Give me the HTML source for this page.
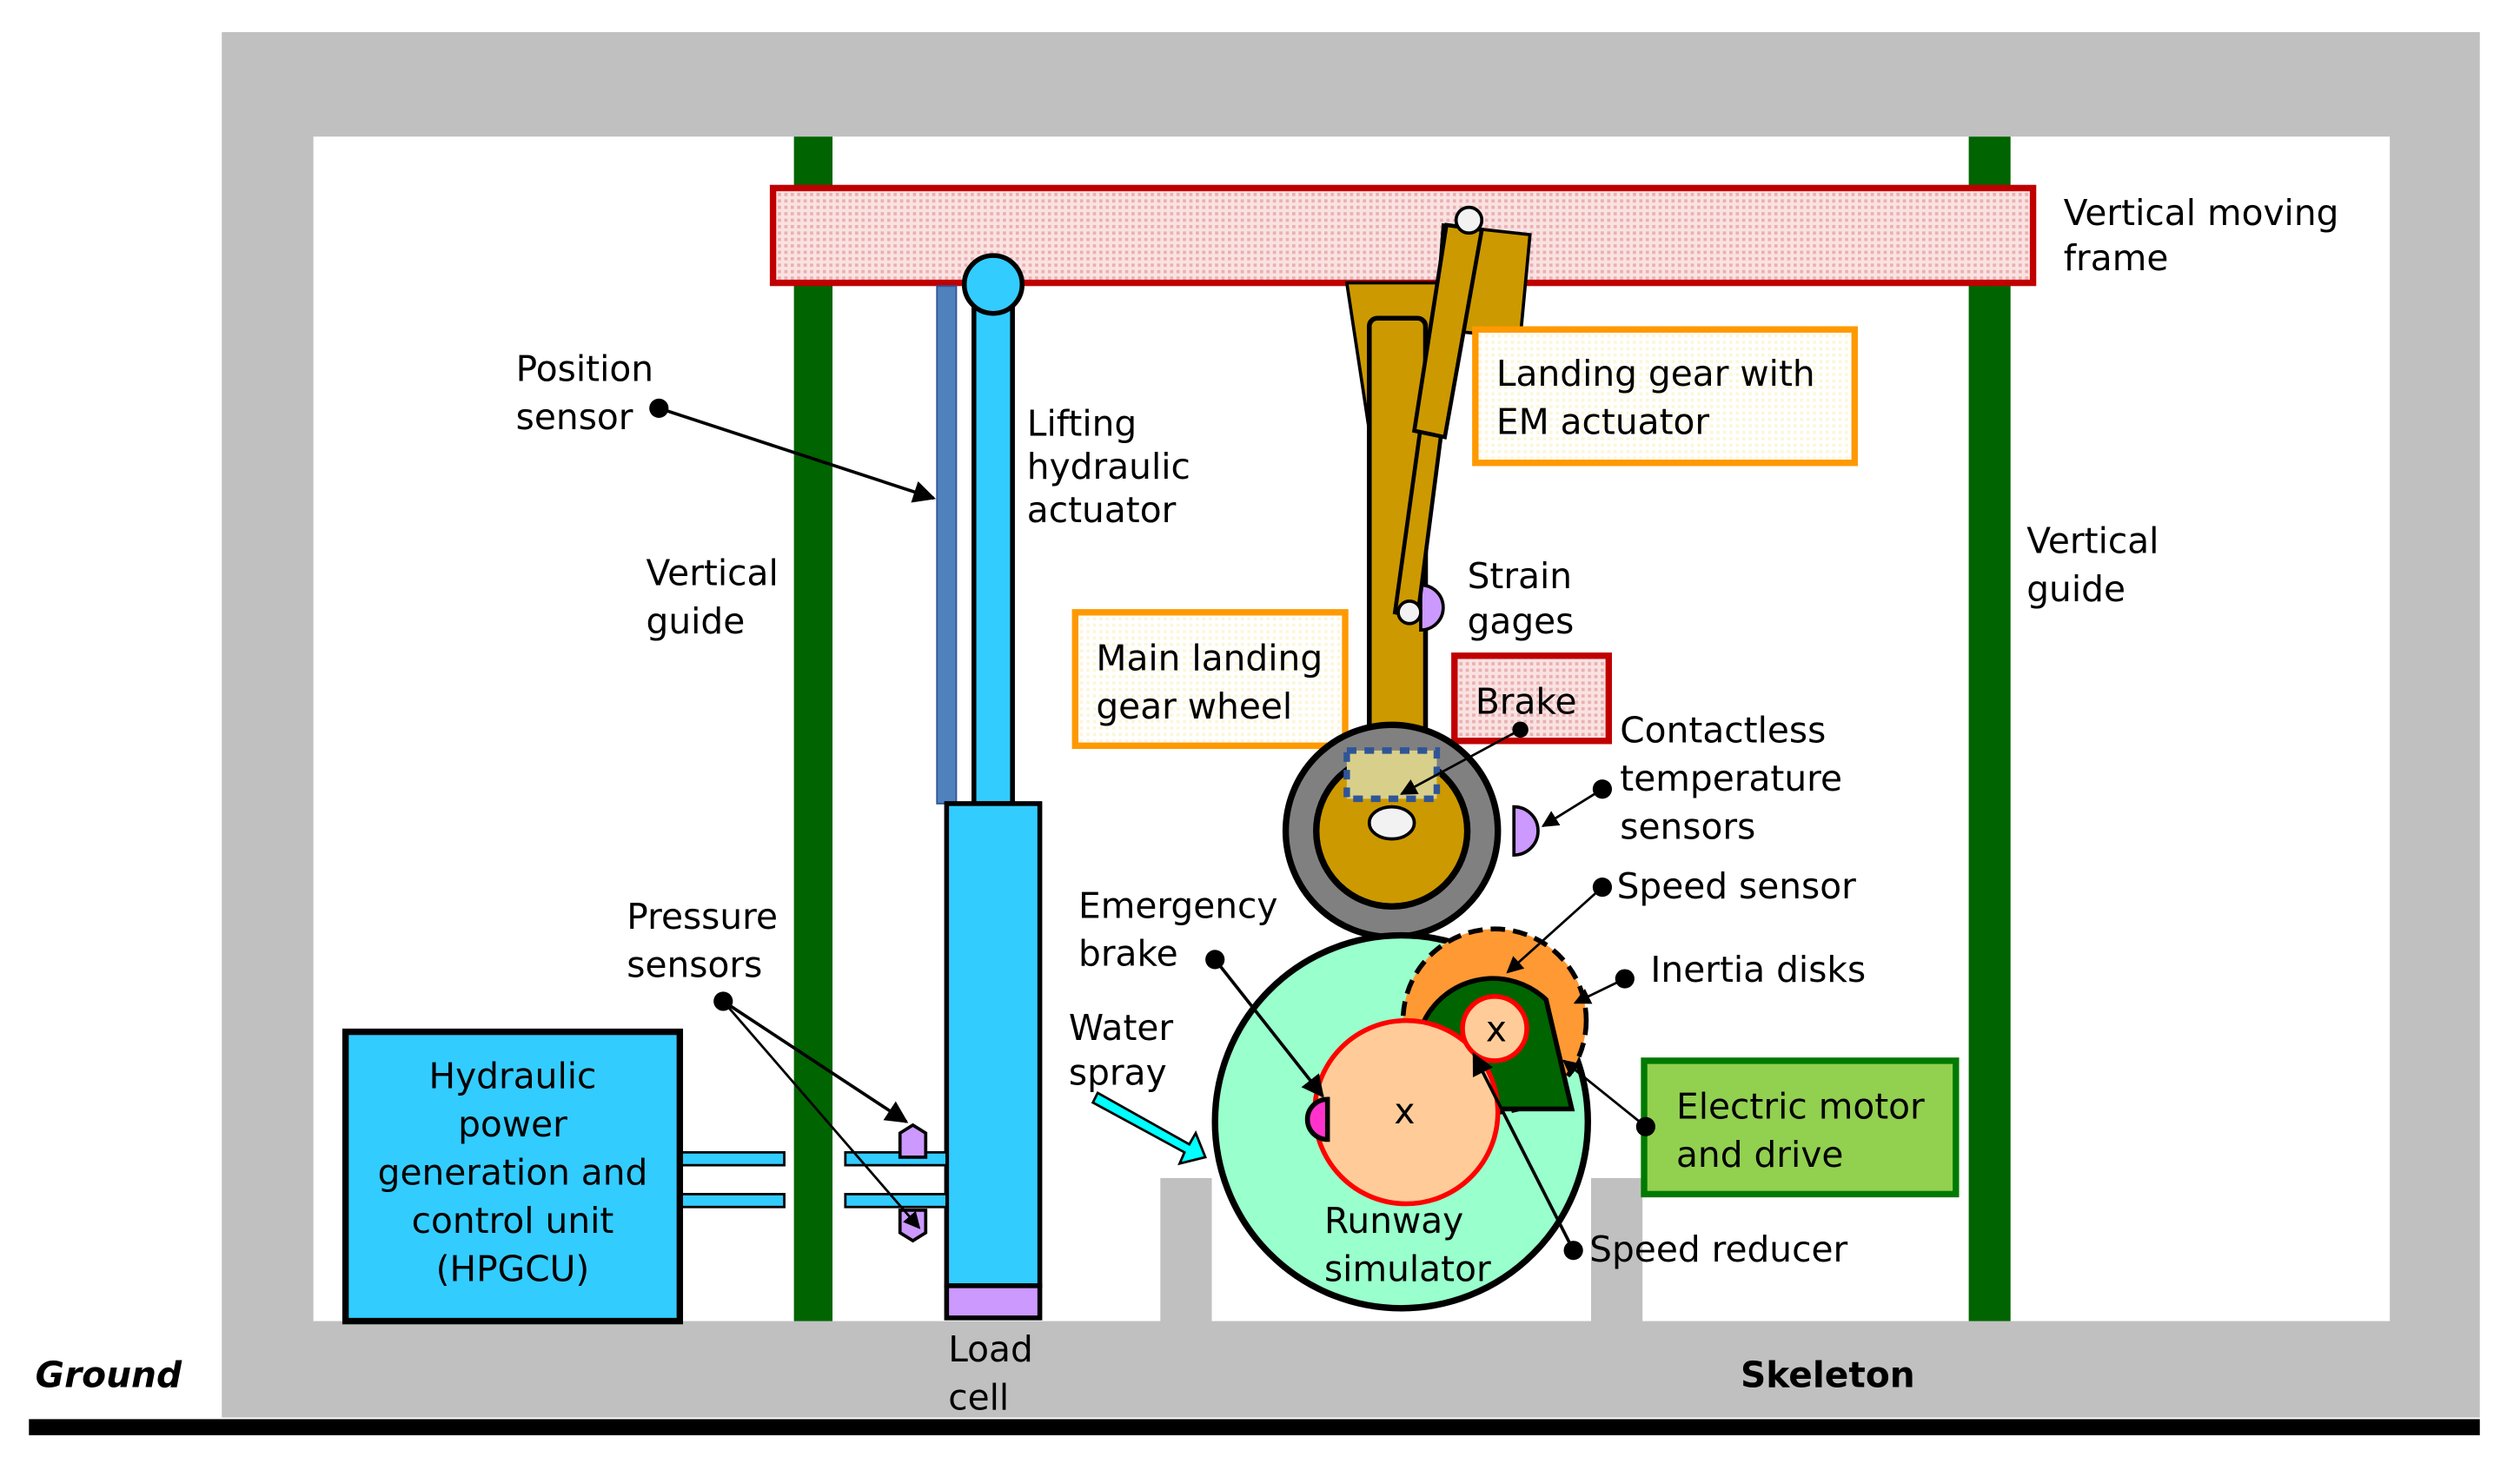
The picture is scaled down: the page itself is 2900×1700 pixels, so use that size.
<!DOCTYPE html>
<html><head><meta charset="utf-8"><style>
html,body{margin:0;padding:0;background:#fff}
svg{display:block}
text{font-family:"DejaVu Sans","Liberation Sans",sans-serif;font-size:22px;fill:#000}
</style></head><body>
<svg width="2900" height="1700" viewBox="0 0 1568 919" preserveAspectRatio="none" xmlns="http://www.w3.org/2000/svg">
<defs>
<pattern id="dots" width="4" height="4" patternUnits="userSpaceOnUse"><rect width="4" height="4" fill="#fbe2e2"/><rect width="2" height="2" fill="#e9b0b0"/></pattern>
<pattern id="ydots" width="4" height="4" patternUnits="userSpaceOnUse"><rect width="4" height="4" fill="#fff"/><rect width="2" height="2" fill="#fdf6d8"/></pattern>
<marker id="ar" viewBox="0 0 10 10" refX="9" refY="5" markerWidth="7" markerHeight="7" orient="auto"><path d="M0,0L10,5L0,10z" fill="#000"/></marker>
</defs>
<rect x="138" y="20" width="1405" height="862" fill="#c0c0c0"/>
<rect x="195" y="85" width="1292" height="737" fill="#fff"/>
<rect x="722" y="733" width="32" height="90" fill="#c0c0c0"/>
<rect x="990" y="733" width="32" height="90" fill="#c0c0c0"/>
<rect x="18" y="883" width="1525" height="10" fill="#000"/>
<text x="22" y="863" font-weight="bold" font-style="italic">Ground</text>
<text x="1083" y="863" font-weight="bold">Skeleton</text>
<rect x="494" y="85" width="24" height="737" fill="#006400"/>
<rect x="1225" y="85" width="26" height="737" fill="#006400"/>
<rect x="481" y="117" width="784" height="59" fill="url(#dots)" stroke="#c00000" stroke-width="4"/>
<text x="1284" y="140">Vertical moving</text><text x="1284" y="168">frame</text>
<rect x="583" y="178" width="12" height="322" fill="#4f81bd" stroke="#2f5597" stroke-width="1"/>
<rect x="606" y="185" width="24" height="315" fill="#33ccff" stroke="#000" stroke-width="3"/>
<circle cx="618" cy="177" r="18" fill="#33ccff" stroke="#000" stroke-width="3"/>
<rect x="589" y="500" width="58" height="300" fill="#33ccff" stroke="#000" stroke-width="3"/>
<rect x="589" y="800" width="58" height="20" fill="#cc99ff" stroke="#000" stroke-width="3"/>
<g fill="#33ccff" stroke="#000" stroke-width="1.5">
<rect x="423" y="717" width="65" height="8"/><rect x="526" y="717" width="63" height="8"/>
<rect x="423" y="743" width="65" height="8"/><rect x="526" y="743" width="63" height="8"/>
</g>
<polygon points="560,705 568,700 576,705 576,720 560,720" fill="#cc99ff" stroke="#000" stroke-width="2"/>
<polygon points="560,753 576,753 576,767 568,772 560,767" fill="#cc99ff" stroke="#000" stroke-width="2"/>
<rect x="215" y="642" width="208" height="180" fill="#33ccff" stroke="#000" stroke-width="4"/>
<g text-anchor="middle"><text x="319" y="677">Hydraulic</text><text x="319" y="707">power</text><text x="319" y="737">generation and</text><text x="319" y="767">control unit</text><text x="319" y="797">(HPGCU)</text></g>
<text x="590" y="847">Load</text><text x="590" y="877">cell</text>
<text x="321" y="237">Position</text><text x="321" y="267">sensor</text>
<circle cx="410" cy="254" r="6"/>
<line x1="410" y1="254" x2="581" y2="310" stroke="#000" stroke-width="2" marker-end="url(#ar)"/>
<text x="402" y="364">Vertical</text><text x="402" y="394">guide</text>
<text x="639" y="271">Lifting</text><text x="639" y="298">hydraulic</text><text x="639" y="325">actuator</text>
<text x="390" y="578">Pressure</text><text x="390" y="608">sensors</text>
<circle cx="450" cy="623" r="6"/>
<line x1="450" y1="623" x2="564" y2="698" stroke="#000" stroke-width="2" marker-end="url(#ar)"/>
<line x1="450" y1="623" x2="572" y2="764" stroke="#000" stroke-width="1.5" marker-end="url(#ar)"/>
<text x="1261" y="344">Vertical</text><text x="1261" y="374">guide</text>
<polygon points="838,176 895,176 895,210 852,268" fill="#cc9900" stroke="#000" stroke-width="2"/>
<rect x="852" y="198" width="35" height="290" rx="5" fill="#cc9900" stroke="#000" stroke-width="3"/>
<polygon points="898,140 952,146 946,210 893,205" fill="#cc9900" stroke="#000" stroke-width="2"/>
<path d="M884,364 A14,14 0 0 1 884,392 Z" fill="#cc99ff" stroke="#000" stroke-width="2"/>
<polygon points="900,150 912,152 882,384 868,381" fill="#cc9900" stroke="#000" stroke-width="2.5"/>
<polygon points="900,140 922,143 899,272 880,268" fill="#cc9900" stroke="#000" stroke-width="2.5"/>
<circle cx="914" cy="137" r="8" fill="#f2f2f2" stroke="#000" stroke-width="2"/>
<circle cx="877" cy="381" r="7" fill="#f2f2f2" stroke="#000" stroke-width="2"/>
<rect x="918" y="205" width="236" height="83" fill="url(#ydots)" stroke="#ff9900" stroke-width="4"/>
<text x="931" y="240">Landing gear  with</text><text x="931" y="270">EM actuator</text>
<text x="913" y="366">Strain</text><text x="913" y="394">gages</text>
<rect x="669" y="381" width="168" height="83" fill="url(#ydots)" stroke="#ff9900" stroke-width="4"/>
<text x="682" y="417">Main landing</text><text x="682" y="447">gear wheel</text>
<rect x="905" y="408" width="96" height="53" fill="url(#dots)" stroke="#c00000" stroke-width="4"/>
<text x="918" y="444">Brake</text>
<circle cx="866" cy="517" r="66" fill="#808080" stroke="#000" stroke-width="4"/>
<circle cx="866" cy="517" r="47" fill="#cc9900" stroke="#000" stroke-width="4"/>
<rect x="838" y="467" width="56" height="30" fill="#d8cf8a" stroke="#2f5597" stroke-width="4" stroke-dasharray="6,5"/>
<ellipse cx="866" cy="512" rx="14" ry="10" fill="#f2f2f2" stroke="#000" stroke-width="2"/>
<circle cx="946" cy="454" r="5"/>
<line x1="946" y1="454" x2="872" y2="494" stroke="#000" stroke-width="1.5" marker-end="url(#ar)"/>
<path d="M942,502 A15,15 0 0 1 942,532 Z" fill="#cc99ff" stroke="#000" stroke-width="2"/>
<circle cx="997" cy="491" r="6"/>
<line x1="997" y1="491" x2="960" y2="514" stroke="#000" stroke-width="1.5" marker-end="url(#ar)"/>
<text x="1008" y="462">Contactless</text><text x="1008" y="492">temperature</text><text x="1008" y="522">sensors</text>
<circle cx="872" cy="698" r="116" fill="#99ffcc" stroke="#000" stroke-width="4"/>
<circle cx="930" cy="635" r="57" fill="#ff9933" stroke="#000" stroke-width="3" stroke-dasharray="9,5"/>
<path d="M884,690 L884,640 A48,48 0 0 1 962,622 L978,690 Z" fill="#006400" stroke="#000" stroke-width="3"/>
<circle cx="875" cy="692" r="57" fill="#ffcc99" stroke="#ff0000" stroke-width="3"/>
<circle cx="930" cy="640" r="20" fill="#ffcc99" stroke="#ff0000" stroke-width="3"/>
<text x="931" y="648" text-anchor="middle">x</text>
<text x="874" y="699" text-anchor="middle">x</text>
<path d="M826,684 A12,12 0 0 0 826,709 Z" fill="#ff33cc" stroke="#000" stroke-width="3"/>
<text x="824" y="767">Runway</text><text x="824" y="797">simulator</text>
<text x="671" y="571">Emergency</text><text x="671" y="601">brake</text>
<circle cx="756" cy="597" r="6"/>
<line x1="756" y1="597" x2="823" y2="682" stroke="#000" stroke-width="2" marker-end="url(#ar)"/>
<text x="665" y="647">Water</text><text x="665" y="675">spray</text>
<polygon points="683,680 740,712 744,705 750,720 734,724 737,717 680,686" fill="#00ffff" stroke="#000" stroke-width="1.5"/>
<text x="1006" y="559">Speed sensor</text>
<circle cx="997" cy="552" r="6"/>
<line x1="997" y1="552" x2="938" y2="605" stroke="#000" stroke-width="1.5" marker-end="url(#ar)"/>
<text x="1027" y="611">Inertia disks</text>
<circle cx="1011" cy="609" r="6"/>
<line x1="1011" y1="609" x2="980" y2="624" stroke="#000" stroke-width="1.5" marker-end="url(#ar)"/>
<rect x="1023" y="660" width="194" height="83" fill="#92d050" stroke="#007a00" stroke-width="4"/>
<text x="1043" y="696">Electric motor</text><text x="1043" y="726">and drive</text>
<circle cx="1024" cy="701" r="6"/>
<line x1="1024" y1="701" x2="973" y2="660" stroke="#000" stroke-width="1.5" marker-end="url(#ar)"/>
<text x="989" y="785">Speed reducer</text>
<circle cx="979" cy="778" r="6"/>
<line x1="979" y1="778" x2="917" y2="656" stroke="#000" stroke-width="2" marker-end="url(#ar)"/>
</svg>
</body></html>
